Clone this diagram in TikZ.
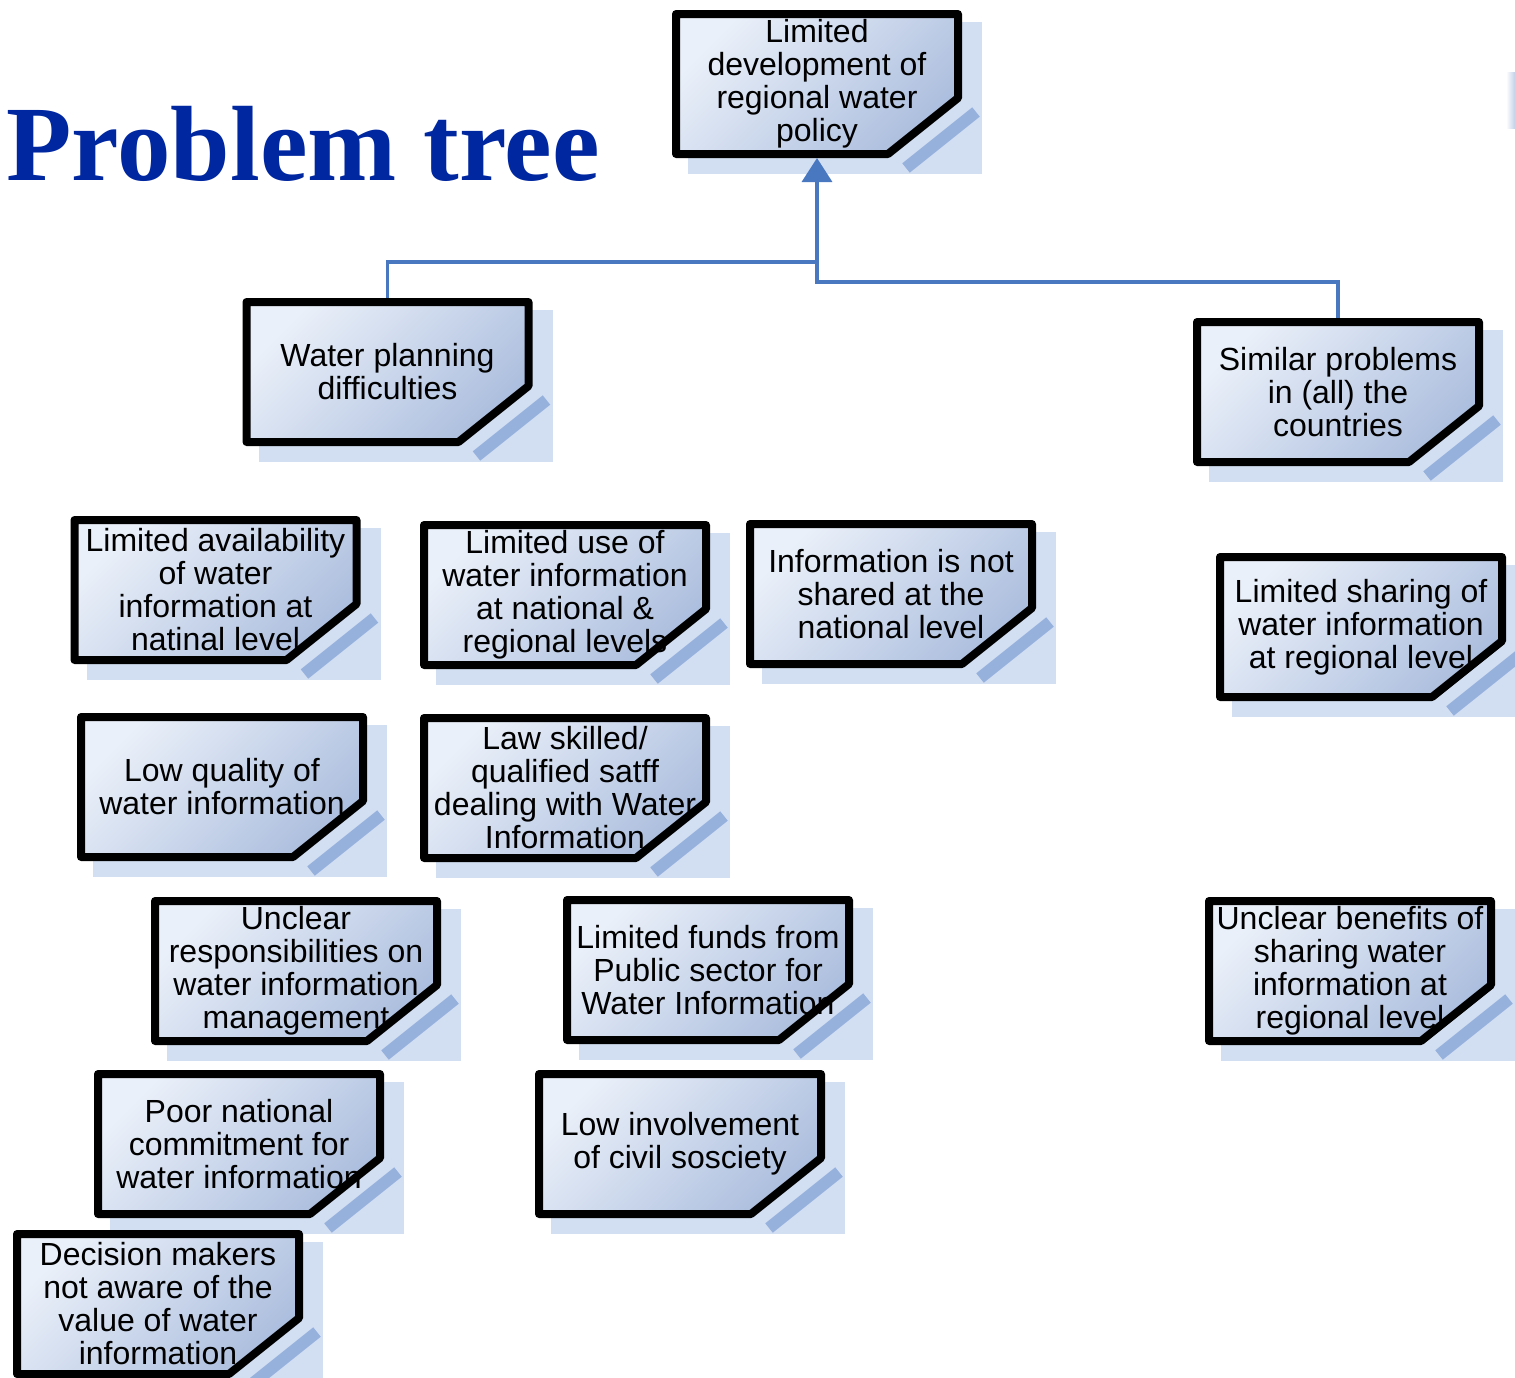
\documentclass[tikz,border=0pt]{standalone}
\usepackage{fontspec}
\setmainfont{Liberation Sans}
\newfontfamily\titlefont{Liberation Serif}
\usetikzlibrary{arrows.meta}

\pgfdeclarelayer{background}
\pgfsetlayers{background,main}

\definecolor{linkblue}{RGB}{74,120,192}
\definecolor{titleblue}{RGB}{0,38,160}
\definecolor{boxlight}{RGB}{234,240,249}
\definecolor{boxdark}{RGB}{172,190,222}
\definecolor{shadowblue}{RGB}{210,222,242}
\definecolor{stripeblue}{RGB}{112,148,208}

% one problem card: name, centre, text
\newcommand{\probbox}[3]{%
  \node[problem] (#1) at (#2) {#3};
  \begin{pgfonlayer}{background}
    \fill[boxshadow] ([shift={(12,8)}]#1.north west) rectangle ([shift={(24,20)}]#1.south east);
    \draw[foldshadow] ([shift={(18,-42)}]#1.south east) -- ([shift={(-52,14)}]#1.south east);
    \shade[boxfill] (#1.north west) -- (#1.north east) -- ([shift={(0,-56)}]#1.south east)
      -- ([shift={(-70,0)}]#1.south east) -- (#1.south west) -- cycle;
  \end{pgfonlayer}
  \draw[border] (#1.north west) -- (#1.north east) -- ([shift={(0,-56)}]#1.south east)
    -- ([shift={(-70,0)}]#1.south east) -- (#1.south west) -- cycle;
}

\begin{document}
\begin{tikzpicture}[
            x = 1pt, y = -1pt, % pixel grid, y downwards
            problem/.style = {minimum width = 282pt, minimum height = 140pt,
                inner sep = 0pt, outer sep = 0pt, align = center,
                font = \fontsize{32}{33}\selectfont},
            border/.style = {draw = black, line width = 8pt, line join = round},
            boxfill/.style = {left color = boxlight, right color = boxdark, shading angle = 45},
            boxshadow/.style = {fill = shadowblue},
            foldshadow/.style = {draw = stripeblue, line width = 12pt, opacity = 0.6},
            link/.style = {draw = linkblue, line width = 3.5pt}
        ]

        \useasboundingbox (0,0) rectangle (1515,1377);

        \node[anchor = base west, text = titleblue,
            font = \titlefont\bfseries\fontsize{107}{110}\selectfont] (title) at (3,180) {Problem tree};

        % top of the tree
        \probbox{policy}{817,84}{Limited\\development of\\regional water\\policy}
        \probbox{planning}{387.5,372}{Water planning\\difficulties}
        \probbox{similar}{1338,392}{Similar problems\\in (all) the\\countries}

        % causes
        \probbox{avail}{215.5,590}{Limited availability\\of water\\information at\\natinal level}
        \probbox{use}{565,595}{Limited use of\\water information\\at national \&\\regional levels}
        \probbox{notshared}{891,594}{Information is not\\shared at the\\national level}
        \probbox{sharing}{1361,627}{Limited sharing of\\water information\\at regional level}
        \probbox{quality}{222,787}{Low quality of\\water information}
        \probbox{staff}{565,788}{Law skilled/\\qualified satff\\dealing with Water\\Information}
        \probbox{resp}{296,971}{Unclear\\responsibilities on\\water information\\management}
        \probbox{funds}{708,970}{Limited funds from\\Public sector for\\Water Information}
        \probbox{benefits}{1350,971}{Unclear benefits of\\sharing water\\information at\\regional level}
        \probbox{commit}{239,1144}{Poor national\\commitment for\\water information}
        \probbox{civil}{680,1144}{Low involvement\\of civil sosciety}
        \probbox{aware}{158,1304}{Decision makers\\not aware of the\\value of water\\information}

        % connectors
        \coordinate (jl) at (817,262);
        \coordinate (jr) at (817,282);
        \draw[link, shorten < = 4pt] (planning.north) |- (jl);
        \draw[link, shorten < = 4pt] (similar.north) |- (jr) -- (jl);
        \draw[link, -{Triangle[width = 30pt, length = 24pt]}, shorten > = 4pt] (jl) -- (policy.south);

        % cut-off shape at the right edge
        \shade[left color = white, right color = linkblue!35] (1506,72) rectangle (1515,128);

    \end{tikzpicture}
\end{document}
